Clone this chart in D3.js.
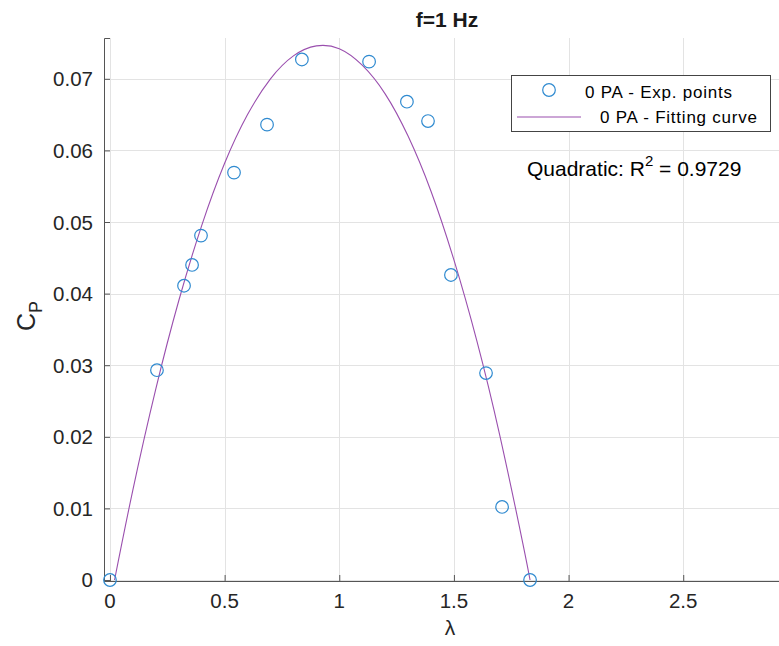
<!DOCTYPE html>
<html>
<head>
<meta charset="utf-8">
<script src="https://cdn.jsdelivr.net/npm/d3@7"></script>
<style>
  body { margin: 0; background: #fff; }
  text { font-family: "Liberation Sans", Arial, sans-serif; fill: #262626; }
</style>
</head>
<body>
<div id="graph"></div>
<script>
// experimental points (tip speed ratio vs power coefficient)
var lambdaPts = [0, 0.205, 0.323, 0.358, 0.397, 0.541, 0.685, 0.837, 1.130, 1.295, 1.387, 1.487, 1.640, 1.710, 1.832];
var cpPts = [0, 0.0293, 0.0411, 0.0440, 0.0481, 0.0569, 0.0636, 0.0727, 0.0724, 0.0668, 0.0641, 0.0426, 0.0289, 0.0102, 0];

// fitting curve
var lambdaFit = [0.02, 0.1, 0.2, 0.3, 0.4, 0.5, 0.6, 0.7, 0.8, 0.9, 1.0, 1.1, 1.2, 1.3, 1.4, 1.5, 1.6, 1.7, 1.8, 1.832];
var cpFit = [0, 0.0126, 0.0267, 0.0390, 0.0495, 0.0582, 0.0650, 0.0700, 0.0732, 0.0746, 0.0742, 0.0719, 0.0679, 0.0620, 0.0543, 0.0447, 0.0334, 0.0202, 0.0052, 0];

// tick labels
var xTicks = [0, 0.5, 1, 1.5, 2, 2.5];
var yTicks = [0, 0.01, 0.02, 0.03, 0.04, 0.05, 0.06, 0.07];

var legendLabels = ['0 PA - Exp. points', '0 PA - Fitting curve'];
var titleText = 'f=1 Hz';
var r2Text = '0.9729';

var width = 779, height = 646;
var plot = {left: 104, right: 791, top: 38, bottom: 581};

var x = d3.scaleLinear().domain([-0.026, 2.97]).range([plot.left, plot.right]);
var y = d3.scaleLinear().domain([-0.00014, 0.0757]).range([plot.bottom, plot.top]);

var svg = d3.select('#graph')
  .append('svg')
  .attr('width', width)
  .attr('height', height);

// grid lines
var grid = svg.append('g').attr('stroke', '#e3e3e3').attr('stroke-width', 1);
grid.selectAll('.vg').data(xTicks).enter().append('line')
  .attr('x1', function(d) { return Math.round(x(d)) + 0.5; })
  .attr('x2', function(d) { return Math.round(x(d)) + 0.5; })
  .attr('y1', plot.top).attr('y2', plot.bottom);
grid.selectAll('.hg').data(yTicks).enter().append('line')
  .attr('y1', function(d) { return Math.round(y(d)) + 0.5; })
  .attr('y2', function(d) { return Math.round(y(d)) + 0.5; })
  .attr('x1', plot.left).attr('x2', plot.right);

// axes, ticks pointing inward
var xAxis = svg.append('g')
  .attr('transform', 'translate(0,' + plot.bottom + ')')
  .call(d3.axisTop(x).tickValues(xTicks).tickSize(6));
xAxis.selectAll('text').remove();
xAxis.selectAll('line, path').attr('stroke', '#555');

var yAxis = svg.append('g')
  .attr('transform', 'translate(' + plot.left + ',0)')
  .call(d3.axisRight(y).tickValues(yTicks).tickSize(6));
yAxis.selectAll('text').remove();
yAxis.selectAll('line, path').attr('stroke', '#555');

// tick labels
svg.selectAll('.xl').data(xTicks).enter().append('text')
  .attr('x', function(d) { return x(d); })
  .attr('y', 608)
  .attr('text-anchor', 'middle')
  .style('font-size', '20.5px')
  .text(function(d) { return d; });

svg.selectAll('.yl').data(yTicks).enter().append('text')
  .attr('x', 93)
  .attr('y', function(d) { return y(d) + 7.5; })
  .attr('text-anchor', 'end')
  .style('font-size', '20.5px')
  .text(function(d) { return d; });

// axis titles
svg.append('text')
  .attr('x', 450).attr('y', 635)
  .attr('text-anchor', 'middle')
  .style('font-size', '21px')
  .text('λ');

var yl = svg.append('text')
  .attr('transform', 'translate(35,316) rotate(-90)')
  .attr('text-anchor', 'middle')
  .style('font-size', '25px');
yl.append('tspan').text('C');
yl.append('tspan').attr('dy', 7).style('font-size', '18px').text('P');

// title
svg.append('text')
  .attr('x', 447).attr('y', 27)
  .attr('text-anchor', 'middle')
  .style('font-size', '21px')
  .style('font-weight', 'bold')
  .style('fill', '#1a1a1a')
  .text(titleText);

// fitting curve
var line = d3.line()
  .x(function(d, i) { return x(lambdaFit[i]); })
  .y(function(d) { return y(d); })
  .curve(d3.curveNatural);

svg.append('path')
  .datum(cpFit)
  .attr('d', line)
  .attr('fill', 'none')
  .attr('stroke', '#9a4fae')
  .attr('stroke-width', 1.1);

// experimental points
svg.selectAll('.pt').data(cpPts).enter().append('circle')
  .attr('cx', function(d, i) { return x(lambdaPts[i]); })
  .attr('cy', function(d) { return y(d); })
  .attr('r', 6.3)
  .attr('fill', 'none')
  .attr('stroke', '#2f8ad0')
  .attr('stroke-width', 1.2);

// legend
var lg = svg.append('g');
lg.append('rect')
  .attr('x', 511.5).attr('y', 75.5)
  .attr('width', 259).attr('height', 56)
  .attr('fill', '#fff')
  .attr('stroke', '#444')
  .attr('stroke-width', 1);
lg.append('circle')
  .attr('cx', 549).attr('cy', 90).attr('r', 6.3)
  .attr('fill', 'none').attr('stroke', '#2f8ad0').attr('stroke-width', 1.2);
lg.append('line')
  .attr('x1', 517).attr('x2', 581).attr('y1', 117).attr('y2', 117)
  .attr('stroke', '#9a4fae').attr('stroke-width', 1.1);
lg.append('text')
  .attr('x', 585).attr('y', 97.5)
  .attr('textLength', 147)
  .attr('lengthAdjust', 'spacing')
  .style('font-size', '17px')
  .style('fill', '#000')
  .text(legendLabels[0]);
lg.append('text')
  .attr('x', 600).attr('y', 123)
  .attr('textLength', 157)
  .attr('lengthAdjust', 'spacing')
  .style('font-size', '17px')
  .style('fill', '#000')
  .text(legendLabels[1]);

// R^2 annotation
var ann = svg.append('text')
  .attr('x', 527).attr('y', 176)
  .style('font-size', '21px')
  .style('fill', '#000');
ann.append('tspan').text('Quadratic: R');
ann.append('tspan').attr('dy', -10).style('font-size', '15px').text('2');
ann.append('tspan').attr('dy', 10).text(' = ' + r2Text);
</script>
</body>
</html>
